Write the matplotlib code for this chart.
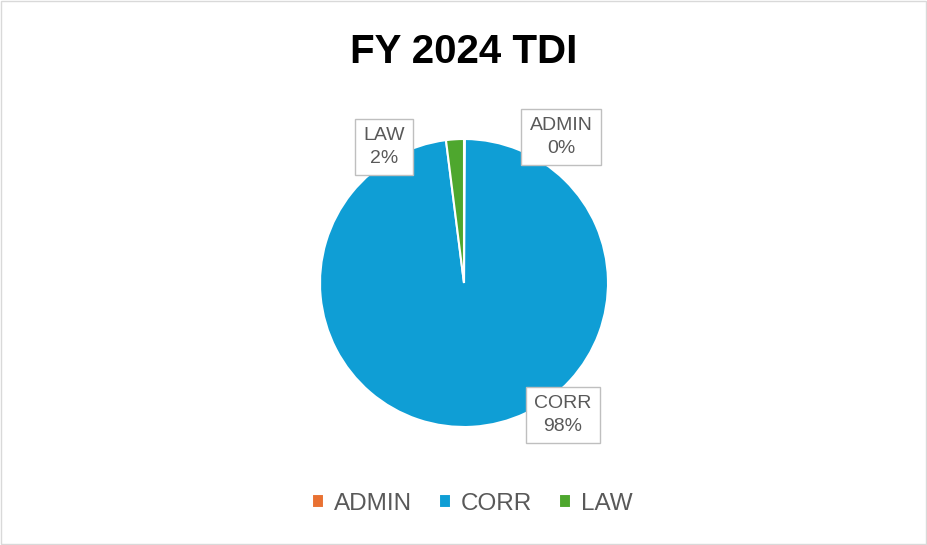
import matplotlib.pyplot as plt
from matplotlib.patches import Rectangle

# datos
categorias = ["ADMIN", "CORR", "LAW"]
valores = [0.1, 97.9, 2.0]
colores = ["#E97132", "#0F9ED5", "#4EA72E"]
etiquetas_pct = ["0%", "98%", "2%"]

plt.rcParams['font.family'] = ['Liberation Sans', 'DejaVu Sans']

fig = plt.figure(figsize=(9.28, 5.45), dpi=100)
fig.patch.set_facecolor("white")
fig.patches.append(Rectangle((0.001, 0.002), 0.997, 0.996, transform=fig.transFigure,
                             fill=False, edgecolor="#d9d9d9", linewidth=1))

# ejes del pastel: centro (464, 283) px, radio 144 px
ax = fig.add_axes([320 / 928, 118 / 545, 288 / 928, 288 / 545])
cuñas, _ = ax.pie(valores, colors=colores, startangle=90, counterclock=False,
                  radius=1, wedgeprops=dict(edgecolor="white", linewidth=1.5))
ax.set_xlim(-1, 1)
ax.set_ylim(-1, 1)
ax.set_aspect("equal")
ax.axis("off")

# posiciones de las etiquetas (coordenadas de datos)
pos_etiquetas = {"ADMIN": (0.674, 1.014), "CORR": (0.688, -0.917), "LAW": (-0.556, 0.944)}
for cat, pct in zip(categorias, etiquetas_pct):
    x, y = pos_etiquetas[cat]
    ax.text(x, y, cat + "\n" + pct, ha="center", va="center", fontsize=14,
            color="#595959", linespacing=1.45, clip_on=False,
            bbox=dict(boxstyle="square,pad=0.42", facecolor="white", edgecolor="#bfbfbf", linewidth=1))

fig.text(0.5, 0.905, "FY 2024 TDI", ha="center", va="center", fontsize=29,
         fontweight="bold", color="#000000")

fig.legend(cuñas, categorias, loc="center", bbox_to_anchor=(0.509, 0.076), ncol=3,
           frameon=False, fontsize=17.5, handlelength=0.5, handleheight=0.5,
           handletextpad=0.4, columnspacing=1.1, labelcolor="#595959")

fig.savefig("out.png", dpi=100, facecolor="white")
